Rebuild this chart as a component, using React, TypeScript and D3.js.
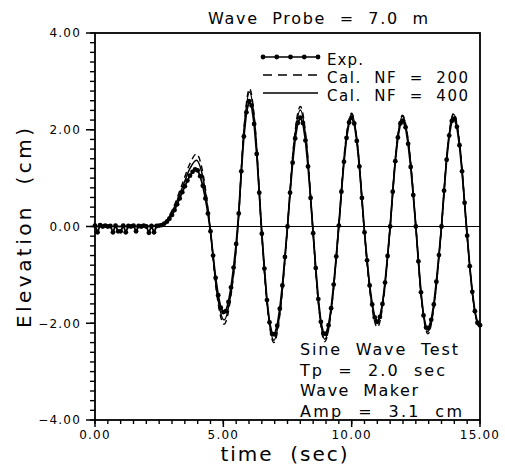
import React from "react";
import * as d3 from "d3";

// measured elevation (cm), one sample every 0.1 s from 0 to 15 s
const EXP_STEP = 0.1;
const expValues = [
  0.02, -0.12, 0.03, 0.0, 0.02, 0.0, 0.01, -0.12, 0.02, -0.1,
  -0.1, 0.02, -0.12, 0.01, 0.0, 0.02, -0.1, 0.01, 0.0, 0.02,
  0.0, -0.13, 0.01, -0.12, 0.01, 0.02, 0.03, 0.06, 0.1, 0.16,
  0.24, 0.34, 0.46, 0.58, 0.71, 0.83, 0.95, 1.05, 1.13, 1.18,
  1.16, 1.04, 0.84, 0.58, 0.27, -0.1, -0.6, -1.06, -1.42, -1.68,
  -1.77, -1.75, -1.56, -1.26, -0.85, -0.36, 0.27, 1.14, 1.86, 2.36,
  2.59, 2.5, 2.12, 1.5, 0.7, -0.15, -0.87, -1.52, -1.98, -2.22,
  -2.23, -2.05, -1.7, -1.22, -0.63, 0.0, 0.7, 1.32, 1.82, 2.14,
  2.25, 2.14, 1.78, 1.24, 0.59, -0.14, -0.86, -1.5, -1.97, -2.21,
  -2.22, -2.04, -1.69, -1.2, -0.62, 0.02, 0.72, 1.34, 1.83, 2.15,
  2.25, 2.13, 1.77, 1.24, 0.59, -0.12, -0.7, -1.22, -1.61, -1.88,
  -1.97, -1.87, -1.6, -1.16, -0.61, 0.0, 0.72, 1.35, 1.84, 2.13,
  2.19, 2.05, 1.71, 1.23, 0.65, 0.0, -0.72, -1.36, -1.84, -2.09,
  -2.1, -1.93, -1.61, -1.14, -0.59, 0.0, 0.74, 1.38, 1.88, 2.18,
  2.23, 2.06, 1.68, 1.14, 0.49, -0.19, -0.82, -1.35, -1.75, -1.99,
  -2.04,
];

// calculated curves, read at crossings, crests, troughs and half way between
const calcTimes = [
  0, 2.0, 2.6, 3.0, 3.4, 3.7, 3.95, 4.22, 4.48, 4.75, 5.03, 5.3,
  5.57, 5.8, 6.02, 6.25, 6.48, 6.72, 6.97, 7.23, 7.5, 7.75, 8.0, 8.24,
  8.48, 8.72, 8.95, 9.22, 9.5, 9.75, 10.0, 10.24, 10.48, 10.74, 11.0, 11.25,
  11.5, 11.74, 11.98, 12.24, 12.5, 12.73, 12.97, 13.23, 13.5, 13.74, 13.97, 14.22,
  14.47, 14.72, 14.97, 15.0,
];
const nf200 = [
  0, 0, 0.03, 0.33, 0.88, 1.3, 1.5, 1.06, 0, -1.42, -2.02, -1.42,
  0, 2.0, 2.85, 2.0, 0, -1.7, -2.4, -1.7, 0, 1.75, 2.48, 1.75,
  0, -1.68, -2.38, -1.68, 0.05, 1.7, 2.34, 1.6, 0, -1.48, -2.08, -1.48,
  0, 1.62, 2.3, 1.62, 0, -1.56, -2.22, -1.56, 0, 1.65, 2.34, 1.65,
  0, -1.45, -2.05, -2.04,
];
const nf400 = [
  0, 0, 0.03, 0.3, 0.8, 1.2, 1.37, 0.97, 0, -1.36, -1.93, -1.36,
  0, 1.97, 2.78, 1.97, 0, -1.66, -2.35, -1.66, 0, 1.7, 2.41, 1.7,
  0, -1.65, -2.33, -1.65, 0, 1.64, 2.32, 1.64, 0, -1.42, -2.0, -1.42,
  0, 1.61, 2.28, 1.61, 0, -1.54, -2.17, -1.54, 0, 1.64, 2.32, 1.64,
  0, -1.46, -2.07, -2.06,
];

const legendLabels = ["Exp.", "Cal.  NF  =  200", "Cal.  NF  =  400"];
const noteLines = ["Sine  Wave  Test", "Tp  =  2.0  sec", "Wave  Maker", "Amp  =  3.1  cm"];

const W = 505;
const H = 470;
const FONT = "DejaVu Sans, sans-serif";

export default function App() {
  const left = 95, right = 480, top = 33, bottom = 420;
  const x = d3.scaleLinear().domain([0, 15]).range([left, right]);
  const y = d3.scaleLinear().domain([-4, 4]).range([bottom, top]);

  const expPts: [number, number][] = expValues.map((v, i) => [i * EXP_STEP, v]);
  const line = d3
    .line<[number, number]>()
    .x((d) => x(d[0]))
    .y((d) => y(d[1]));
  const smooth = d3
    .line<[number, number]>()
    .x((d) => x(d[0]))
    .y((d) => y(d[1]))
    .curve(d3.curveMonotoneX);

  const p200: [number, number][] = calcTimes.map((t, i) => [t, nf200[i]]);
  const p400: [number, number][] = calcTimes.map((t, i) => [t, nf400[i]]);

  const yMajor = y.ticks(4);
  const yMinor = y.ticks(40);
  const xMajor = x.ticks(3);
  const xMinor = x.ticks(30);

  const legX0 = 263, legX1 = 318, legText = 327;
  const legY = [57, 75, 93];
  const legLen = [36, 141, 141];
  const noteLen = [158, 145, 118, 162];

  return (
    <svg width={W} height={H} style={{ position: "absolute", left: 0, top: 0, background: "#fff" }}>
      {/* frame */}
      <rect x={left} y={top} width={right - left} height={bottom - top} fill="none" stroke="#000" strokeWidth={1.8} />
      <line x1={left} x2={right} y1={y(0)} y2={y(0)} stroke="#000" strokeWidth={1.2} />

      {/* y ticks */}
      {yMinor.map((t) => (
        <line key={"ym" + t} x1={left - 5} x2={left} y1={y(t)} y2={y(t)} stroke="#000" strokeWidth={1.4} />
      ))}
      {yMajor.map((t) => (
        <g key={"yM" + t}>
          <line x1={left - 9} x2={left} y1={y(t)} y2={y(t)} stroke="#000" strokeWidth={1.5} />
          <text x={81} y={y(t)} dy="0.36em" textAnchor="end" fontFamily={FONT} fontSize={12} letterSpacing={1.2}>
            {t < 0 ? "\u2212" + d3.format(".2f")(-t) : d3.format(".2f")(t)}
          </text>
        </g>
      ))}

      {/* x ticks */}
      {xMinor.map((t) => (
        <line key={"xm" + t} x1={x(t)} x2={x(t)} y1={bottom} y2={bottom + 4} stroke="#000" strokeWidth={1.4} />
      ))}
      {xMajor.map((t) => (
        <g key={"xM" + t}>
          <line x1={x(t)} x2={x(t)} y1={bottom} y2={bottom + 7} stroke="#000" strokeWidth={1.5} />
          <text x={x(t)} y={439} textAnchor="middle" fontFamily={FONT} fontSize={12} letterSpacing={1.2}>
            {d3.format(".2f")(t)}
          </text>
        </g>
      ))}

      {/* curves */}
      <path d={smooth(p200) ?? ""} fill="none" stroke="#000" strokeWidth={1.4} strokeDasharray="6 4" />
      <path d={smooth(p400) ?? ""} fill="none" stroke="#000" strokeWidth={1.5} />
      <path d={line(expPts) ?? ""} fill="none" stroke="#000" strokeWidth={1.8} />
      {expPts.map((d, i) => (
        <circle key={"e" + i} cx={x(d[0])} cy={y(d[1])} r={2.4} fill="#000" />
      ))}

      {/* legend */}
      <line x1={legX0} x2={legX1} y1={legY[0]} y2={legY[0]} stroke="#000" strokeWidth={1.6} />
      {[0, 1, 2, 3, 4].map((k) => (
        <circle key={"lg" + k} cx={legX0 + ((legX1 - legX0) * k) / 4} cy={legY[0]} r={2.4} fill="#000" />
      ))}
      <line x1={legX0} x2={legX1} y1={legY[1]} y2={legY[1]} stroke="#000" strokeWidth={1.4} strokeDasharray="9 6" />
      <line x1={legX0} x2={legX1} y1={legY[2]} y2={legY[2]} stroke="#000" strokeWidth={1.5} />
      {legendLabels.map((s, i) => (
        <text key={s} x={legText} y={legY[i] + 8} fontFamily={FONT} fontSize={15}
          textLength={legLen[i]} lengthAdjust="spacing" style={{ whiteSpace: "pre" }}>
          {s}
        </text>
      ))}

      {/* notes */}
      {noteLines.map((s, i) => (
        <text key={s} x={300} y={355 + i * 20.5} fontFamily={FONT} fontSize={16}
          textLength={noteLen[i]} lengthAdjust="spacing" style={{ whiteSpace: "pre" }}>
          {s}
        </text>
      ))}

      {/* titles */}
      <text x={208} y={24} fontFamily={FONT} fontSize={16} textLength={220} lengthAdjust="spacing"
        style={{ whiteSpace: "pre" }}>
        {"Wave  Probe  =  7.0  m"}
      </text>
      <text x={284} y={461} textAnchor="middle" fontFamily={FONT} fontSize={20} textLength={127}
        lengthAdjust="spacing" style={{ whiteSpace: "pre" }}>
        {"time  (sec)"}
      </text>
      <text transform="translate(31,228) rotate(-90)" textAnchor="middle" fontFamily={FONT} fontSize={20}
        textLength={200} lengthAdjust="spacing" style={{ whiteSpace: "pre" }}>
        {"Elevation  (cm)"}
      </text>
    </svg>
  );
}
